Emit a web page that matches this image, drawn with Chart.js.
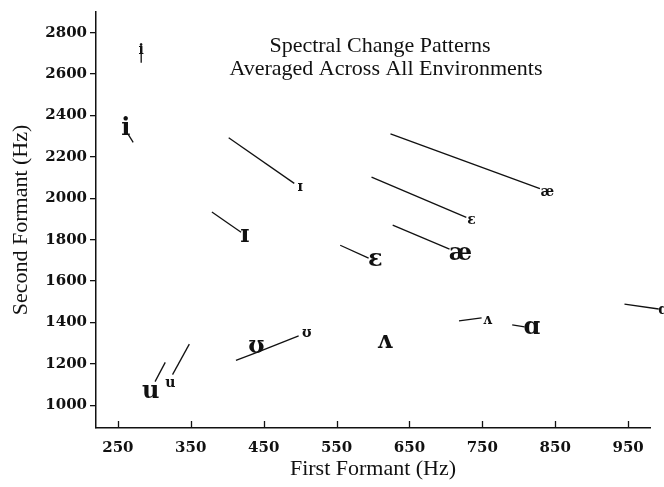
<!DOCTYPE html>
<html>
<head>
<meta charset="utf-8">
<script src="https://cdn.jsdelivr.net/npm/chart.js@4/dist/chart.umd.min.js"></script>
<style>
html,body{margin:0;padding:0;background:#fff}
#wrap{width:664px;height:487px}
</style>
</head>
<body>
<div id="wrap"><canvas id="chart" width="664" height="487"></canvas></div>
<script>
// vowel symbols, same order for both groups
const vowels = ['i', 'ɪ', 'ɛ', 'æ', 'u', 'ʊ', 'ʌ', 'ɑ'];

// large symbols (label positions, Hz)
const bigF1 = [261, 424, 603, 720, 295, 440, 616, 818];
const bigF2 = [2336, 1821, 1701, 1733, 1067, 1284, 1308, 1372];
// large-symbol trajectories (start -> end), null = no line
const bigStartF1 = [264, 379, 555, 627, 315, 412, null, 791];
const bigStartF2 = [2310, 1934, 1773, 1870, 1207, 1217, null, 1388];
const bigEndF1 = [271, 419, 594, 705, 301, 440, null, 808];
const bigEndF2 = [2270, 1836, 1711, 1754, 1114, 1254, null, 1379];

// small symbols
const smallF1 = [282, 500, 735, 839, 322, 509, 757, 998];
const smallF2 = [2716, 2054, 1894, 2030, 1108, 1348, 1412, 1460];
const smallStartF1 = [282, 402, 598, 624, 348, 440, 718, 945];
const smallStartF2 = [2738, 2292, 2102, 2311, 1295, 1254, 1408, 1489];
const smallEndF1 = [282, 492, 728, 829, 325, 498, 749, 992];
const smallEndF2 = [2655, 2072, 1908, 2047, 1148, 1335, 1422, 1465];

const xTicks = [250, 350, 450, 550, 650, 750, 850, 950];
const yTicks = [1000, 1200, 1400, 1600, 1800, 2000, 2200, 2400, 2600, 2800];

const titleLines = ['Spectral Change Patterns', 'Averaged Across All Environments'];

const INK = '#111';

function segments(sx, sy, ex, ey) {
    const out = [];
    for (let i = 0; i < sx.length; i++) {
        if (sx[i] === null) continue;
        out.push({
            data: [{x: sx[i], y: sy[i]}, {x: ex[i], y: ey[i]}],
            showLine: true, pointRadius: 0, borderColor: INK, borderWidth: 1.3, clip: false
        });
    }
    return out;
}

const datasets = [
    ...segments(bigStartF1, bigStartF2, bigEndF1, bigEndF2),
    ...segments(smallStartF1, smallStartF2, smallEndF1, smallEndF2)
];

const labelPlugin = {
    id: 'labels',
    afterDraw(chart) {
        const {ctx, scales: {x, y}, chartArea} = chart;
        ctx.save();
        ctx.fillStyle = INK;
        ctx.textAlign = 'center';
        ctx.textBaseline = 'middle';
        ctx.font = 'bold 24px "DejaVu Serif"';
        vowels.forEach((v, i) => ctx.fillText(v, x.getPixelForValue(bigF1[i]), y.getPixelForValue(bigF2[i])));
        ctx.font = 'bold 14px "DejaVu Serif"';
        vowels.forEach((v, i) => ctx.fillText(v, x.getPixelForValue(smallF1[i]), y.getPixelForValue(smallF2[i])));

        // inward tick marks on the x axis
        ctx.strokeStyle = INK;
        ctx.lineWidth = 1.3;
        xTicks.forEach(t => {
            const px = Math.round(x.getPixelForValue(t)) + 0.5;
            ctx.beginPath();
            ctx.moveTo(px, chartArea.bottom);
            ctx.lineTo(px, chartArea.bottom - 7);
            ctx.stroke();
        });

        // title
        ctx.font = '22px "Liberation Serif"';
        ctx.fillText(titleLines[0], 380, 46);
        ctx.fillText(titleLines[1], 386, 69);
        ctx.restore();
    }
};

new Chart(document.getElementById('chart'), {
    type: 'scatter',
    data: {datasets},
    options: {
        responsive: false,
        animation: false,
        layout: {padding: {top: 10, right: 14, left: 0, bottom: 0}},
        plugins: {legend: {display: false}, tooltip: {enabled: false}},
        scales: {
            x: {
                type: 'linear', min: 220, max: 980,
                afterBuildTicks: s => { s.ticks = xTicks.map(v => ({value: v})); },
                afterFit: s => { s.height = 59; },
                grid: {drawOnChartArea: false, drawTicks: false},
                border: {color: INK, width: 1.5},
                ticks: {color: INK, padding: 11, callback: v => String(v),
                        font: {family: 'DejaVu Serif', size: 15, weight: 'bold'}},
                title: {display: true, text: 'First Formant (Hz)', color: INK, padding: {top: 0, bottom: 5},
                        font: {family: 'Liberation Serif', size: 22}}
            },
            y: {
                type: 'linear', min: 890, max: 2900,
                afterBuildTicks: s => { s.ticks = yTicks.map(v => ({value: v})); },
                afterFit: s => { s.width = 96; },
                grid: {drawOnChartArea: false, tickLength: 6, color: INK, lineWidth: 1.3},
                border: {color: INK, width: 1.5},
                ticks: {color: INK, padding: 3, callback: v => String(v),
                        font: {family: 'DejaVu Serif', size: 15, weight: 'bold'}},
                title: {display: true, text: 'Second Formant (Hz)', color: INK, padding: {top: 8, bottom: 0},
                        font: {family: 'Liberation Serif', size: 22}}
            }
        }
    },
    plugins: [labelPlugin]
});
</script>
</body>
</html>
